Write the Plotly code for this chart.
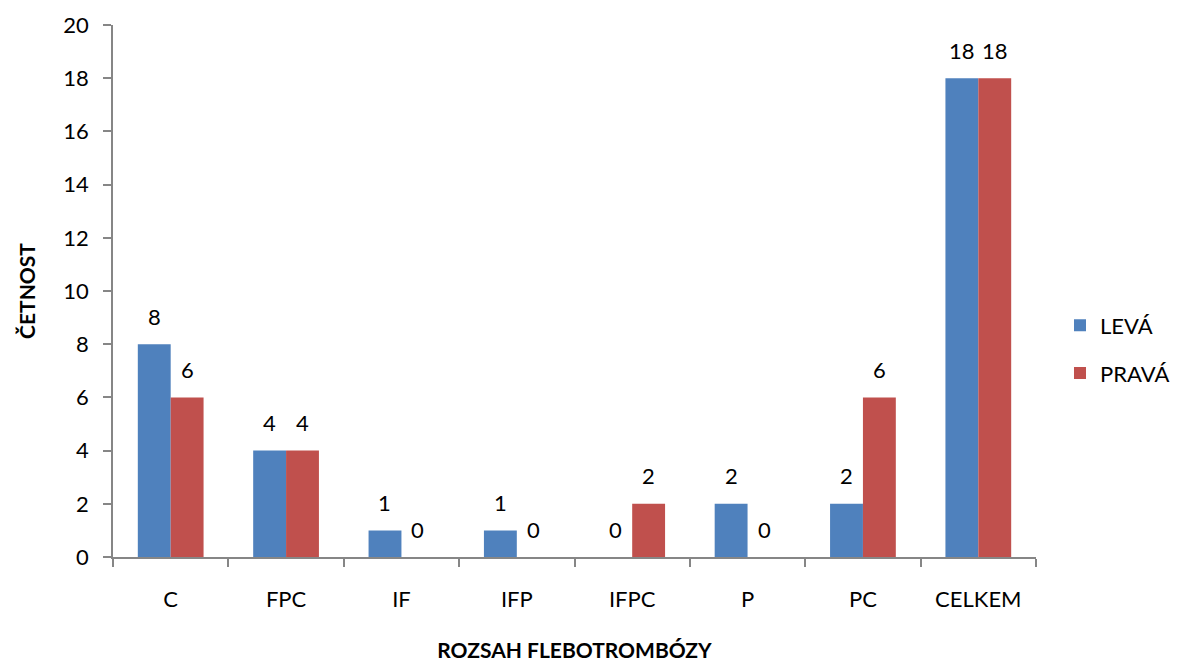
import plotly.graph_objects as go

# Rozsah flebotrombózy – četnost podle strany
categories = ["C", "FPC", "IF", "IFP", "IFPC", "P", "PC", "CELKEM"]
leva = [8, 4, 1, 1, 0, 2, 2, 18]
prava = [6, 4, 0, 0, 2, 0, 6, 18]
y_ticks = [0, 2, 4, 6, 8, 10, 12, 14, 16, 18, 20]

BLUE = "#4F81BD"
RED = "#C0504D"
FONT = "Lato, 'Open Sans', sans-serif"
AXIS_GREY = "#868686"
SIZE = 22

fig = go.Figure()
fig.add_trace(go.Bar(
    x=categories, y=leva, name="LEVÁ", legendgroup="l",
    marker=dict(color=BLUE, line=dict(width=0)),
))
fig.add_trace(go.Bar(
    x=categories, y=prava, name="PRAVÁ", legendgroup="p",
    marker=dict(color=RED, line=dict(width=0)),
))

# value labels above each bar
bar_px = 33
for vals, shift in ((leva, -bar_px / 2), (prava, bar_px / 2)):
    for cat, v in zip(categories, vals):
        fig.add_annotation(
            x=cat, y=v, text=str(v), showarrow=False,
            xshift=shift, yshift=28, yanchor="middle",
            font=dict(family=FONT, size=SIZE, color="#000000"),
        )

fig.update_layout(
    width=1187, height=662,
    margin=dict(l=113, r=149, t=25, b=105),
    paper_bgcolor="white", plot_bgcolor="white",
    barmode="group", bargap=0.43, bargroupgap=0,
    font=dict(family=FONT, size=SIZE, color="#000000"),
    legend=dict(
        x=1.026, y=0.39, xanchor="left", yanchor="middle",
        font=dict(family=FONT, size=SIZE),
        traceorder="grouped", tracegroupgap=16,
        itemwidth=30,
    ),
    xaxis=dict(
        showline=True, linecolor=AXIS_GREY, linewidth=1.5,
        ticks="outside", ticklen=8, tickcolor=AXIS_GREY, tickwidth=1.5,
        tickson="boundaries", ticklabelstandoff=22,
        showgrid=False, automargin=False,
        title=dict(text="<b>ROZSAH FLEBOTROMBÓZY</b>",
                   font=dict(family=FONT, size=21), standoff=36),
    ),
    yaxis=dict(
        range=[0, 20], tickvals=y_ticks,
        showline=True, linecolor=AXIS_GREY, linewidth=1.5,
        ticks="outside", ticklen=8, tickcolor=AXIS_GREY, tickwidth=1.5,
        ticklabelstandoff=10,
        showgrid=False, zeroline=False, automargin=False,
        title=dict(text="<b>ČETNOST</b>",
                   font=dict(family=FONT, size=21), standoff=22),
    ),
)

fig.write_html("out.html")
